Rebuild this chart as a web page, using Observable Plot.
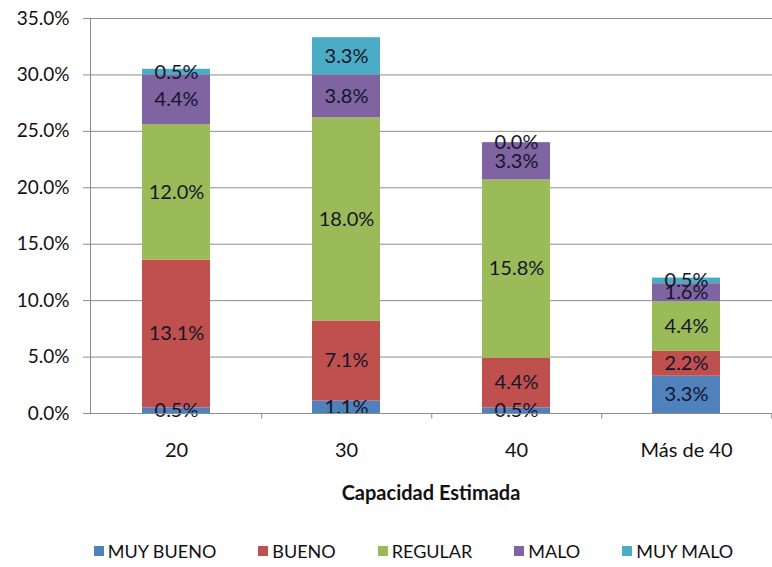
<!DOCTYPE html>
<html>
<head>
<meta charset="utf-8">
<script src="https://cdn.jsdelivr.net/npm/d3@7"></script>
<script src="https://cdn.jsdelivr.net/npm/@observablehq/plot@0.6"></script>
<style>
  body { margin: 0; background: #fff; font-family: Lato, "Open Sans", sans-serif; }
  #chart { width: 772px; }
  .xlabel { padding-left: 90px; text-align: center; font-weight: bold; font-size: 20px; line-height: 20px; margin-top: 12px; color: #111; }
  .legend { display: flex; justify-content: center; gap: 42px; margin-top: 39px; padding-left: 55px; padding-right: 0; font-size: 18px; line-height: 20px; color: #111; }
  .legend span.item { display: flex; align-items: center; gap: 4px; }
  .legend span.sw { width: 10px; height: 10px; display: inline-block; }
</style>
</head>
<body>
<div id="chart"></div>
<script>
const categories = ["20", "30", "40", "Más de 40"];
const series = ["MUY BUENO", "BUENO", "REGULAR", "MALO", "MUY MALO"];
const colors = ["#4F81BD", "#C0504D", "#9BBB59", "#8064A2", "#4BACC6"];
const muyBueno = [0.5, 1.1, 0.5, 3.3];
const bueno    = [13.1, 7.1, 4.4, 2.2];
const regular  = [12.0, 18.0, 15.8, 4.4];
const malo     = [4.4, 3.8, 3.3, 1.6];
const muyMalo  = [0.5, 3.3, 0.0, 0.5];
const yTicks = [0, 5, 10, 15, 20, 25, 30, 35];
const xTitle = "Capacidad Estimada";

const seriesValues = [muyBueno, bueno, regular, malo, muyMalo];
const data = [];
series.forEach((s, i) => categories.forEach((c, j) => data.push({cat: c, series: s, value: seriesValues[i][j]})));

const fmt = d => d.toFixed(1) + "%";
const bandHalf = (772 - 90) / categories.length / 2;

const chart = Plot.plot({
  width: 772,
  height: 470,
  marginLeft: 90,
  marginRight: 0,
  marginTop: 18,
  marginBottom: 57,
  style: { fontFamily: "Lato, 'Open Sans', sans-serif", fontSize: "18px", color: "#111", background: "#fff" },
  x: { domain: categories, paddingInner: 0.6, paddingOuter: 0.3, label: null },
  y: { domain: [0, 35], label: null },
  color: { domain: series, range: colors },
  marks: [
    Plot.gridY(yTicks, { stroke: "#8c8c8c", strokeOpacity: 1, strokeWidth: 1 }),
    Plot.barY(data, { x: "cat", y: "value", fill: "series", order: series }),
    Plot.text(data, Plot.stackY({ x: "cat", y: "value", z: "series", order: series, text: d => fmt(d.value), fill: "#15152a", fontSize: 20 })),
    Plot.ruleY([0], { stroke: "#8c8c8c" }),
    Plot.ruleX(categories, { x: d => d, dx: bandHalf, y1: 0, y2: -0.5, stroke: "#8c8c8c" }),
    Plot.frame({ anchor: "left", stroke: "#8c8c8c" }),
    Plot.axisY(yTicks, { tickFormat: fmt, tickSize: 7, tickPadding: 14, stroke: "#8c8c8c", fontSize: 19 }),
    Plot.axisX({ tickSize: 0, tickPadding: 29, fontSize: 20 })
  ]
});
document.getElementById("chart").appendChild(chart);

const lab = document.createElement("div");
lab.className = "xlabel";
lab.textContent = xTitle;
document.getElementById("chart").appendChild(lab);

const leg = document.createElement("div");
leg.className = "legend";
series.forEach((s, i) => {
  const it = document.createElement("span");
  it.className = "item";
  const sw = document.createElement("span");
  sw.className = "sw";
  sw.style.background = colors[i];
  const tx = document.createElement("span");
  tx.textContent = s;
  it.appendChild(sw); it.appendChild(tx);
  leg.appendChild(it);
});
document.getElementById("chart").appendChild(leg);
</script>
</body>
</html>
